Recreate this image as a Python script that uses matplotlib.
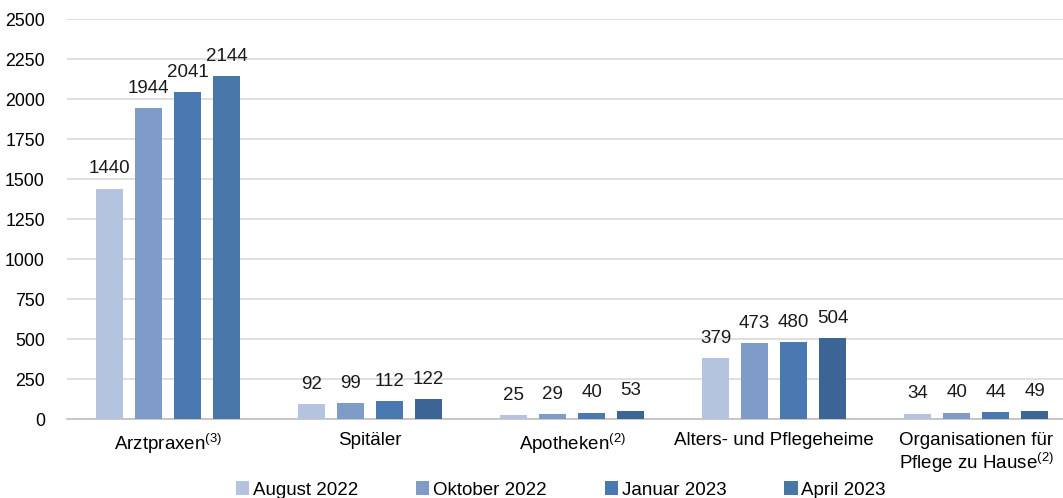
import numpy as np
import matplotlib
matplotlib.use("Agg")
import matplotlib.pyplot as plt

plt.rcParams.update({
    "font.family": "Liberation Sans",
    "font.size": 12,
    "mathtext.fontset": "custom",
    "mathtext.rm": "Liberation Sans",
    "mathtext.it": "Liberation Sans",
})

categories = ["Arztpraxen$^{\\mathrm{(3)}}$", "Spitäler", "Apotheken$^{\\mathrm{(2)}}$",
              "Alters- und Pflegeheime", "Organisationen für\nPflege zu Hause$^{\\mathrm{(2)}}$"]
series = ["August 2022", "Oktober 2022", "Januar 2023", "April 2023"]
aug_2022 = [1440, 92, 25, 379, 34]
okt_2022 = [1944, 99, 29, 473, 40]
jan_2023 = [2041, 112, 40, 480, 44]
apr_2023 = [2144, 122, 53, 504, 49]
values = [aug_2022, okt_2022, jan_2023, apr_2023]
colors = ["#b4c3de", "#7f9bc8", "#4a78b0", "#3c6595"]

fig = plt.figure(figsize=(10.63, 4.98), dpi=100)
ax = fig.add_axes([67 / 1063, 1 - 419 / 498, 1 - 67 / 1063, 400 / 498])

x = np.arange(len(categories))
step = 0.193
w = 0.134
for i, (name, vals) in enumerate(zip(series, values)):
    bars = ax.bar(x + (i - 1.5) * step, vals, w, color=colors[i], label=name, zorder=3)
    for b, v in zip(bars, vals):
        ax.annotate(str(v), (b.get_x() + b.get_width() / 2, v), xytext=(0, 8),
                    textcoords="offset points", ha="center", va="bottom",
                    fontsize=13.5, color="#1a1a1a")
    if i == 3:
        bars[0].set_facecolor("#4677a7")

ax.set_xlim(-0.5, 4.43)
ax.set_ylim(0, 2500)
ax.set_yticks(np.arange(0, 2501, 250))
ax.yaxis.grid(True, color="#d9d9d9", lw=1.2, zorder=0)
ax.tick_params(axis="y", length=0, pad=16, labelsize=12.8)
ax.tick_params(axis="x", length=0, pad=9, labelsize=13.5)
ax.set_xticks(x)
ax.set_xticklabels(categories, linespacing=1.15)
for s in ["top", "right", "left"]:
    ax.spines[s].set_visible(False)
ax.spines["bottom"].set_color("#bfbfbf")
ax.spines["bottom"].set_linewidth(1.2)

leg = fig.legend(loc="lower left", bbox_to_anchor=(219 / 1063, -0.035), ncol=4,
                 frameon=False, handlelength=0.7, handleheight=0.7,
                 handletextpad=0.2, columnspacing=3.1, fontsize=13.5)

fig.savefig("out.png", dpi=100)
